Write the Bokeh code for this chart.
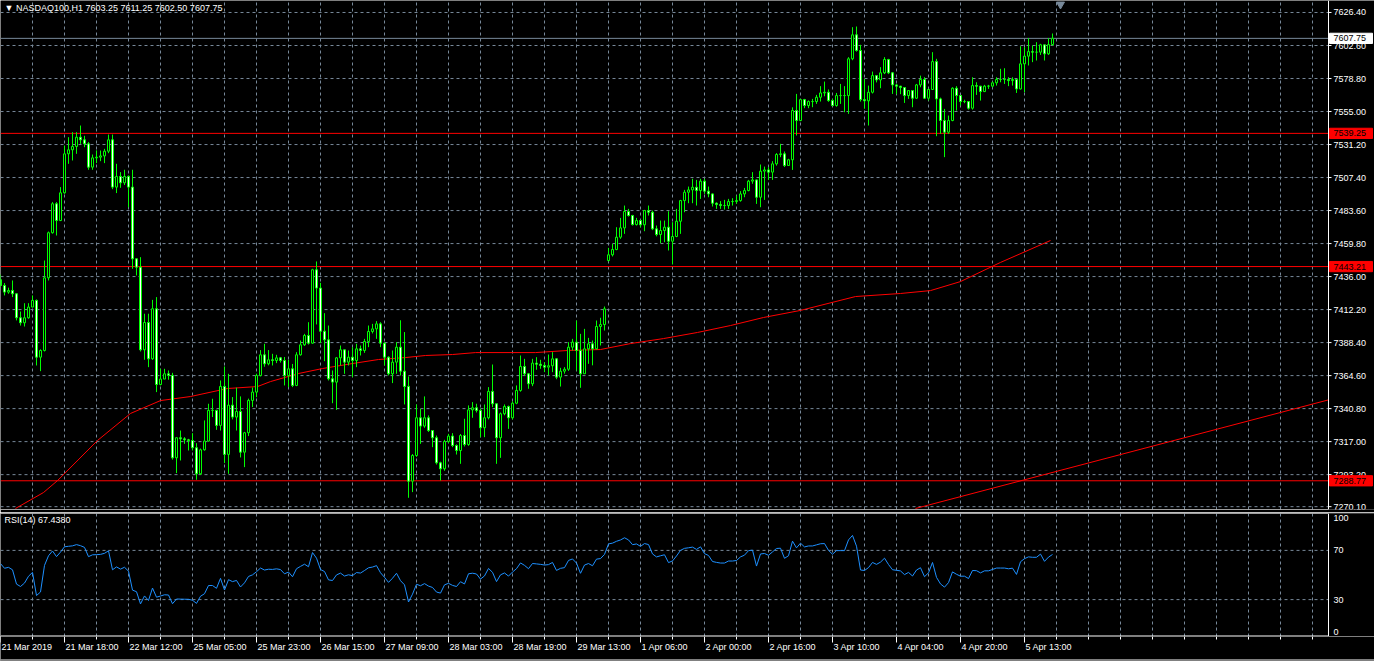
from bokeh.plotting import figure
from bokeh.models import Range1d, Label, ColumnDataSource
from bokeh.layouts import column
from bokeh.embed import file_html
from bokeh.resources import INLINE
from bokeh.core.properties import value

# ---------------- data ----------------
symbol_title = "\u25bc NASDAQ100,H1  7603.25 7611.25 7602.50 7607.75"
rsi_title = "RSI(14) 67.4380"

first_open = 7433.7
open_gaps = {152: 7447.6}

close = [
    7429.6, 7424.8, 7426.0, 7423.6, 7406.3, 7402.7, 7406.3, 7414.0, 7418.8, 7377.9,
    7382.7, 7435.1, 7467.6, 7488.5, 7476.4, 7496.4, 7524.5, 7527.4, 7529.8, 7536.5,
    7534.6, 7531.7, 7514.9, 7521.6, 7522.1, 7523.0, 7526.4, 7534.6, 7500.5, 7508.2,
    7503.6, 7508.2, 7500.5, 7448.8, 7442.8, 7383.2, 7402.9, 7376.7, 7412.8, 7358.2,
    7362.1, 7365.9, 7364.7, 7305.3, 7319.8, 7319.0, 7318.3, 7317.8, 7312.6, 7293.8,
    7311.1, 7317.4, 7339.5, 7339.5, 7328.7, 7356.8, 7307.8, 7343.3, 7334.7, 7338.7,
    7309.4, 7323.4, 7346.7, 7352.7, 7364.7, 7379.6, 7373.1, 7376.0,
    7375.5, 7377.4, 7375.5, 7364.7, 7369.5, 7357.5, 7379.6, 7386.8, 7393.5, 7388.0,
    7440.9, 7427.7, 7396.6, 7390.4, 7362.3, 7359.9, 7377.4, 7383.2, 7374.3, 7377.9,
    7375.5, 7383.9, 7382.7, 7389.2, 7396.4, 7398.3, 7401.9, 7388.0, 7377.9, 7365.9,
    7374.3, 7385.1, 7367.8, 7356.8, 7288.5, 7307.0, 7334.2, 7328.2, 7334.2, 7325.0,
    7319.8, 7301.7, 7297.4, 7317.1, 7321.0, 7314.2, 7310.6, 7321.4, 7314.9, 7339.9,
    7341.4, 7339.5, 7327.0, 7334.2, 7353.2, 7344.3, 7319.8, 7337.1, 7342.3, 7334.2,
    7344.7, 7353.9, 7371.2, 7365.9, 7358.7, 7373.6,
    7372.8, 7371.9, 7370.7, 7371.7, 7376.7, 7363.5, 7367.8, 7369.2, 7385.1, 7388.7,
    7382.7, 7365.9, 7383.9, 7387.5, 7383.9, 7400.0, 7401.4, 7412.7, 7451.7, 7455.5,
    7464.4, 7471.1, 7482.9, 7480.0, 7473.5, 7476.4, 7473.3, 7483.6, 7482.4, 7470.4,
    7466.3, 7469.2, 7471.6, 7461.5, 7464.9, 7475.9, 7490.8, 7496.8, 7498.5, 7500.4,
    7498.0, 7504.8, 7497.6, 7495.6, 7488.9, 7487.9, 7487.2, 7487.2, 7490.1, 7490.1,
    7490.8, 7495.6, 7498.0, 7504.8, 7505.7, 7493.2, 7512.0, 7512.9, 7511.3, 7517.3,
    7524.0, 7524.5, 7516.1, 7520.2, 7555.7,
    7548.5, 7563.6, 7559.3, 7562.2, 7562.2, 7565.3, 7568.4, 7568.9, 7562.9, 7559.3,
    7566.5, 7566.5, 7566.5, 7593.0, 7610.3, 7599.0, 7563.6, 7562.7, 7568.9, 7580.9,
    7577.8, 7582.9, 7592.5, 7582.9, 7574.2, 7573.3, 7572.3, 7566.5, 7570.1, 7564.6,
    7574.2, 7578.1, 7564.6, 7570.9, 7591.0, 7564.1, 7548.5, 7540.1, 7548.5, 7571.8,
    7566.5, 7562.2, 7562.2, 7557.4, 7573.7, 7573.3, 7569.4, 7573.3, 7573.3, 7575.7,
    7578.1, 7578.1, 7578.1, 7577.3, 7578.1, 7571.3, 7589.4, 7594.9, 7598.2, 7597.8,
    7597.8, 7603.1, 7596.6, 7603.25, 7607.75,
]

high = [
    7437.5, 7431.3, 7428.0, 7433.2, 7424.0, 7410.8, 7416.8, 7416.8, 7422.4, 7419.5,
    7383.5, 7447.6, 7468.5, 7489.7, 7489.7, 7500.5, 7530.5, 7536.5, 7540.1, 7540.1,
    7544.9, 7537.5, 7533.0, 7524.0, 7527.0, 7526.9, 7528.1, 7538.4, 7538.4, 7517.3,
    7511.3, 7513.0, 7509.0, 7513.0, 7449.0, 7450.0, 7409.2, 7409.2, 7419.2, 7421.2,
    7369.5, 7369.5, 7368.3, 7366.6, 7320.0, 7325.0, 7320.2, 7319.0, 7323.1, 7315.9,
    7312.0, 7332.3, 7344.3, 7347.9, 7340.0, 7361.1, 7371.2, 7365.9, 7349.1, 7355.9,
    7349.6, 7324.0, 7348.0, 7356.0, 7366.0, 7383.0, 7387.5, 7383.0,
    7380.3, 7379.6, 7378.0, 7378.0, 7376.0, 7373.0, 7381.5, 7389.9, 7394.7, 7403.1,
    7441.6, 7446.9, 7431.5, 7409.6, 7400.7, 7368.3, 7378.0, 7386.3, 7381.5, 7382.7,
    7385.1, 7387.5, 7386.3, 7391.1, 7400.7, 7401.9, 7403.9, 7403.1, 7388.5, 7378.5,
    7382.7, 7388.7, 7404.5, 7396.0, 7364.0, 7308.0, 7343.8, 7340.7, 7349.6, 7335.9,
    7320.8, 7321.4, 7302.5, 7318.3, 7322.6, 7323.1, 7315.0, 7322.5, 7333.5, 7343.1,
    7345.5, 7344.3, 7340.7, 7343.8, 7356.3, 7372.6, 7340.5, 7338.0, 7343.8, 7343.0,
    7346.0, 7357.5, 7379.1, 7376.7, 7366.5, 7376.7,
    7377.9, 7376.0, 7374.3, 7379.8, 7381.5, 7377.2, 7370.2, 7370.7, 7388.7, 7391.1,
    7404.3, 7394.7, 7398.3, 7391.8, 7389.9, 7404.3, 7406.3, 7414.4, 7456.7, 7459.6,
    7471.6, 7478.3, 7487.2, 7484.8, 7480.5, 7478.3, 7477.0, 7484.1, 7487.2, 7483.6,
    7472.8, 7476.4, 7476.4, 7483.1, 7475.2, 7484.8, 7491.3, 7498.5, 7500.9, 7506.5,
    7505.7, 7506.5, 7506.5, 7500.9, 7496.0, 7489.5, 7490.4, 7491.3, 7492.0, 7492.5,
    7494.4, 7497.6, 7499.9, 7505.7, 7511.3, 7506.0, 7516.8, 7515.3, 7514.9, 7519.2,
    7525.0, 7531.7, 7526.2, 7520.9, 7558.0,
    7567.7, 7564.1, 7564.1, 7563.0, 7564.1, 7567.0, 7573.3, 7576.6, 7570.9, 7564.1,
    7568.4, 7574.9, 7573.3, 7594.2, 7615.8, 7616.3, 7603.1, 7578.5, 7573.7, 7583.8,
    7579.7, 7587.0, 7594.2, 7593.0, 7583.5, 7574.9, 7573.5, 7572.5, 7570.3, 7570.5,
    7574.9, 7580.9, 7579.7, 7571.5, 7597.8, 7593.0, 7565.0, 7556.9, 7552.1, 7572.5,
    7573.3, 7566.5, 7563.5, 7562.2, 7579.7, 7576.1, 7573.5, 7574.2, 7574.2, 7576.6,
    7579.7, 7585.8, 7586.2, 7579.7, 7579.7, 7578.0, 7602.1, 7601.4, 7607.9, 7602.6,
    7605.0, 7603.8, 7603.1, 7607.9, 7611.25,
]

low = [
    7428.4, 7422.4, 7423.6, 7421.2, 7404.4, 7400.7, 7400.0, 7405.6, 7414.0, 7371.9,
    7367.8, 7382.0, 7433.2, 7467.0, 7465.6, 7476.0, 7495.7, 7517.3, 7519.7, 7524.5,
    7531.7, 7529.3, 7513.0, 7513.0, 7517.8, 7519.2, 7517.8, 7525.0, 7499.0, 7496.2,
    7500.0, 7502.0, 7486.0, 7441.6, 7436.8, 7382.0, 7376.0, 7370.7, 7376.0, 7352.7,
    7357.5, 7363.5, 7361.6, 7304.0, 7294.3, 7303.4, 7315.4, 7310.6, 7310.6, 7289.5,
    7293.0, 7310.5, 7317.0, 7334.7, 7325.5, 7325.0, 7301.5, 7293.8, 7333.0, 7325.0,
    7305.6, 7298.6, 7321.0, 7341.9, 7349.0, 7364.0, 7371.0, 7372.0,
    7371.9, 7373.6, 7374.0, 7357.5, 7356.3, 7356.3, 7357.0, 7379.0, 7386.0, 7387.0,
    7387.5, 7401.5, 7388.0, 7375.0, 7361.1, 7344.7, 7339.9, 7371.9, 7365.9, 7371.9,
    7363.5, 7370.7, 7379.1, 7381.0, 7385.1, 7395.0, 7391.1, 7385.1, 7371.9, 7364.7,
    7359.2, 7365.9, 7364.7, 7343.8, 7276.5, 7280.6, 7306.0, 7315.4, 7327.0, 7324.0,
    7313.0, 7300.5, 7289.0, 7296.0, 7316.0, 7313.0, 7307.7, 7301.0, 7313.5, 7314.0,
    7334.2, 7338.0, 7320.2, 7320.2, 7333.0, 7341.9, 7301.0, 7305.3, 7336.0, 7326.2,
    7333.0, 7344.0, 7353.0, 7364.5, 7355.1, 7357.0,
    7368.8, 7369.5, 7367.1, 7364.7, 7367.1, 7362.0, 7356.7, 7366.0, 7368.0, 7382.7,
    7368.3, 7355.8, 7365.9, 7373.1, 7372.0, 7383.5, 7386.3, 7397.1, 7447.0, 7450.5,
    7455.0, 7463.2, 7466.8, 7479.3, 7472.8, 7472.8, 7471.6, 7468.7, 7480.0, 7469.5,
    7465.0, 7460.1, 7460.8, 7454.8, 7444.7, 7464.4, 7466.8, 7482.4, 7488.9, 7488.9,
    7487.2, 7492.0, 7495.6, 7493.2, 7486.5, 7484.8, 7484.8, 7484.3, 7484.8, 7487.2,
    7488.4, 7490.0, 7493.2, 7497.5, 7502.9, 7488.4, 7486.0, 7491.3, 7505.7, 7505.7,
    7516.0, 7522.1, 7515.0, 7516.1, 7512.9,
    7537.7, 7548.0, 7557.4, 7557.4, 7558.1, 7560.5, 7562.2, 7566.0, 7562.0, 7558.8,
    7558.5, 7560.5, 7554.5, 7553.3, 7592.0, 7598.2, 7562.2, 7557.0, 7544.9, 7568.0,
    7576.0, 7571.8, 7582.0, 7582.0, 7567.7, 7567.5, 7567.5, 7561.2, 7564.1, 7558.1,
    7564.0, 7572.5, 7564.1, 7562.9, 7570.5, 7537.2, 7538.9, 7522.1, 7538.9, 7548.0,
    7555.7, 7559.3, 7561.0, 7556.4, 7556.4, 7567.0, 7562.9, 7569.0, 7571.3, 7572.5,
    7573.7, 7576.1, 7574.9, 7573.3, 7573.7, 7568.4, 7570.9, 7568.9, 7588.2, 7590.6,
    7591.8, 7595.8, 7591.8, 7595.8, 7602.50,
]

# moving average: (bar, price)
ma_bars = [3.75, 10.75, 14.25, 24.25, 32.5, 40, 47.5, 56.75, 64.25, 67.5, 74.5, 80.5, 88,
           94.5, 101.25, 106.25, 113, 118.75, 133.75, 141.75, 150, 157.5, 165.75, 174.25,
           182.5, 190.75, 200, 213.75, 225, 232.5, 240, 250, 262.5]
ma_vals = [7268.8, 7280.3, 7288.9, 7317.8, 7337.3, 7346.6, 7349.5, 7355.3, 7356.7, 7360.3,
           7366.1, 7369.7, 7373.3, 7376.2, 7377.6, 7379.1, 7379.8, 7381.2, 7381.2, 7382.7,
           7383.4, 7387.7, 7391.3, 7395.7, 7400.7, 7406.5, 7411.6, 7421.6, 7423.8, 7425.9,
           7432.4, 7446.2, 7462.0]

trend_bars = [228.75, 332.0]
trend_vals = [7268.8, 7347.1]

level_lines = [7539.25, 7443.21, 7288.77]

price_ticks = [7270.10, 7293.20, 7317.00, 7340.80, 7364.60, 7388.40, 7412.20, 7436.00,
               7459.80, 7483.60, 7507.40, 7531.20, 7555.00, 7578.80, 7602.60, 7626.40]
rsi_ticks = [0, 30, 70, 100]
rsi_levels = [30, 70]
rsi_seed_gain = 3.2
rsi_seed_loss = 2.2

label_bars = [0, 16, 32, 48, 64, 80, 96, 112, 128, 144, 160, 176, 192, 208, 224, 240, 256]
date_labels = ["21 Mar 2019", "21 Mar 18:00", "22 Mar 12:00", "25 Mar 05:00", "25 Mar 23:00",
               "26 Mar 15:00", "27 Mar 09:00", "28 Mar 03:00", "28 Mar 19:00", "29 Mar 13:00",
               "1 Apr 06:00", "2 Apr 00:00", "2 Apr 16:00", "3 Apr 10:00", "4 Apr 04:00",
               "4 Apr 20:00", "5 Apr 13:00"]

# ---------------- styling ----------------
FONT = "Liberation Sans"
FS = "9px"
GRID = "#778899"
LIME = "#00ff00"
X_END = 332          # right edge of the chart area (in bars)
X_MAX = 343.5        # right edge of the window incl. price scale
Y_LO, Y_HI = 7268.06, 7635.05
W = 1374

N = len(close)
xs = list(range(N))
opens = [first_open] + close[:-1]
for k, v in open_gaps.items():
    opens[k] = v
hi = [max(h, o, c) for h, o, c in zip(high, opens, close)]
lo = [min(l, o, c) for l, o, c in zip(low, opens, close)]
top = [max(o, c) for o, c in zip(opens, close)]
bot = [min(o, c) for o, c in zip(opens, close)]
fills = ["white" if c < o else "black" for o, c in zip(opens, close)]

# RSI(14), Wilder smoothing of the closes above
rsi = []
ag, al = rsi_seed_gain, rsi_seed_loss
rsi.append(100 - 100 / (1 + ag / al))
for i in range(1, N):
    ch = close[i] - close[i - 1]
    ag = (ag * 13 + max(ch, 0)) / 14
    al = (al * 13 + max(-ch, 0)) / 14
    rsi.append(100.0 if al == 0 else 100 - 100 / (1 + ag / al))

src = ColumnDataSource(dict(x=xs, hi=hi, lo=lo, top=top, bot=bot, fill=fills))
xr = Range1d(0, X_MAX)
vgrid = list(range(8, X_END, 8))

def make(height, yr, top_border, bottom_border):
    fig = figure(frame_width=W, frame_height=height, x_range=xr, y_range=yr,
                 output_backend="svg", toolbar_location=None,
                 x_axis_location=None, y_axis_location=None,
                 min_border_left=0, min_border_right=0,
                 min_border_top=top_border, min_border_bottom=bottom_border)
    fig.background_fill_color = "black"
    fig.border_fill_color = "black"
    fig.outline_line_color = None
    fig.grid.visible = False
    return fig

def txt(fig, x, y, labels, align="left", baseline="middle", x_offset=0, y_offset=0,
        color="white"):
    fig.text(x=x, y=y, text=labels, x_offset=x_offset, y_offset=y_offset,
             text_align=align, text_baseline=baseline, text_font=value(FONT),
             text_font_size=value(FS), text_color=color)

# ---------------- main panel ----------------
p = make(509, Range1d(Y_LO, Y_HI), 0, 3)

# grid
p.segment(x0=[0] * len(price_ticks), y0=price_ticks, x1=[X_END] * len(price_ticks),
          y1=price_ticks, line_color=GRID, line_dash="3 3", line_width=1)
p.segment(x0=vgrid, y0=[Y_LO] * len(vgrid), x1=vgrid, y1=[Y_HI] * len(vgrid),
          line_color=GRID, line_dash="3 3", line_width=1)

# level lines and bid line
p.segment(x0=[0] * len(level_lines), y0=level_lines, x1=[X_END] * len(level_lines),
          y1=level_lines, line_color="red", line_width=1)
p.segment(x0=[0], y0=[close[-1]], x1=[X_END], y1=[close[-1]], line_color=GRID, line_width=1)

p.line(ma_bars, ma_vals, line_color="red", line_width=1)
p.line(trend_bars, trend_vals, line_color="red", line_width=1)

# candles
p.segment(x0="x", y0="lo", x1="x", y1="hi", source=src, line_color=LIME, line_width=1)
p.vbar(x="x", width=0.5, top="top", bottom="bot", source=src,
       fill_color="fill", line_color=LIME, line_width=1)

p.scatter([N + 1], [Y_HI - 2.8], marker="inverted_triangle", size=8,
          fill_color=GRID, line_color=GRID)

# chart frame (right and bottom)
p.segment(x0=[X_END, 0], y0=[Y_LO, Y_LO], x1=[X_END, X_END], y1=[Y_HI, Y_LO],
          line_color="white", line_width=1)
# price scale
p.segment(x0=[X_END] * len(price_ticks), y0=price_ticks, x1=[X_END + 0.75] * len(price_ticks),
          y1=price_ticks, line_color="white", line_width=1)
txt(p, [X_END] * len(price_ticks), price_ticks, [f"{v:.2f}" for v in price_ticks], x_offset=5)

# price tags for level lines and bid
box_h = 3.7
p.quad(left=[X_END + 0.25] * len(level_lines), right=[X_END + 11] * len(level_lines),
       top=[v + box_h for v in level_lines], bottom=[v - box_h for v in level_lines],
       fill_color="red", line_color="red")
txt(p, [X_END] * len(level_lines), level_lines, [f"{v:.2f}" for v in level_lines],
    x_offset=5, color="black")
p.quad(left=[X_END + 0.25], right=[X_END + 11], top=[close[-1] + box_h],
       bottom=[close[-1] - box_h], fill_color="white", line_color="white")
txt(p, [X_END], [close[-1]], [f"{close[-1]:.2f}"], x_offset=5, color="black")

p.add_layout(Label(x=0, y=Y_HI - 1.5, x_offset=4, text=symbol_title, text_baseline="top",
                   text_font=FONT, text_font_size=FS, text_color="white"))

# ---------------- RSI panel ----------------
r = make(123, Range1d(0, 100), 1, 0)
r.segment(x0=[0] * len(rsi_levels), y0=rsi_levels, x1=[X_END] * len(rsi_levels),
          y1=rsi_levels, line_color=GRID, line_dash="3 3", line_width=1)
r.segment(x0=vgrid, y0=[0] * len(vgrid), x1=vgrid, y1=[100] * len(vgrid),
          line_color=GRID, line_dash="3 3", line_width=1)
r.line(xs, rsi, line_color="#1e90ff", line_width=1)
r.segment(x0=[0, 0, X_END], y0=[100, 0.4, 0], x1=[X_END, X_END, X_END], y1=[100, 0.4, 100],
          line_color="white", line_width=1)
txt(r, [X_END] * 2, [70, 30], ["70", "30"], x_offset=5)
txt(r, [X_END], [100], ["100"], x_offset=5, baseline="top", y_offset=1)
txt(r, [X_END], [0], ["0"], x_offset=5, baseline="bottom", y_offset=-2)
r.add_layout(Label(x=0, y=98.5, x_offset=4, text=rsi_title, text_baseline="top",
                   text_font=FONT, text_font_size=FS, text_color="white"))

# ---------------- time scale ----------------
t = make(25, Range1d(0, 1), 0, 0)
minor = [b for b in range(8, X_END + 1, 8) if b not in label_bars]
t.segment(x0=minor, y0=[1] * len(minor), x1=minor, y1=[0.88] * len(minor),
          line_color="white", line_width=1)
t.segment(x0=label_bars, y0=[1] * len(label_bars), x1=label_bars, y1=[0.76] * len(label_bars),
          line_color="white", line_width=1)
txt(t, label_bars, [0.78] * len(label_bars), date_labels, baseline="top", x_offset=1)
# window bottom edge
t.segment(x0=[0], y0=[0.06], x1=[X_MAX], y1=[0.06], line_color="white", line_width=1)

layout = column(p, r, t, spacing=0)
open("out.html", "w").write(file_html(layout, INLINE))
